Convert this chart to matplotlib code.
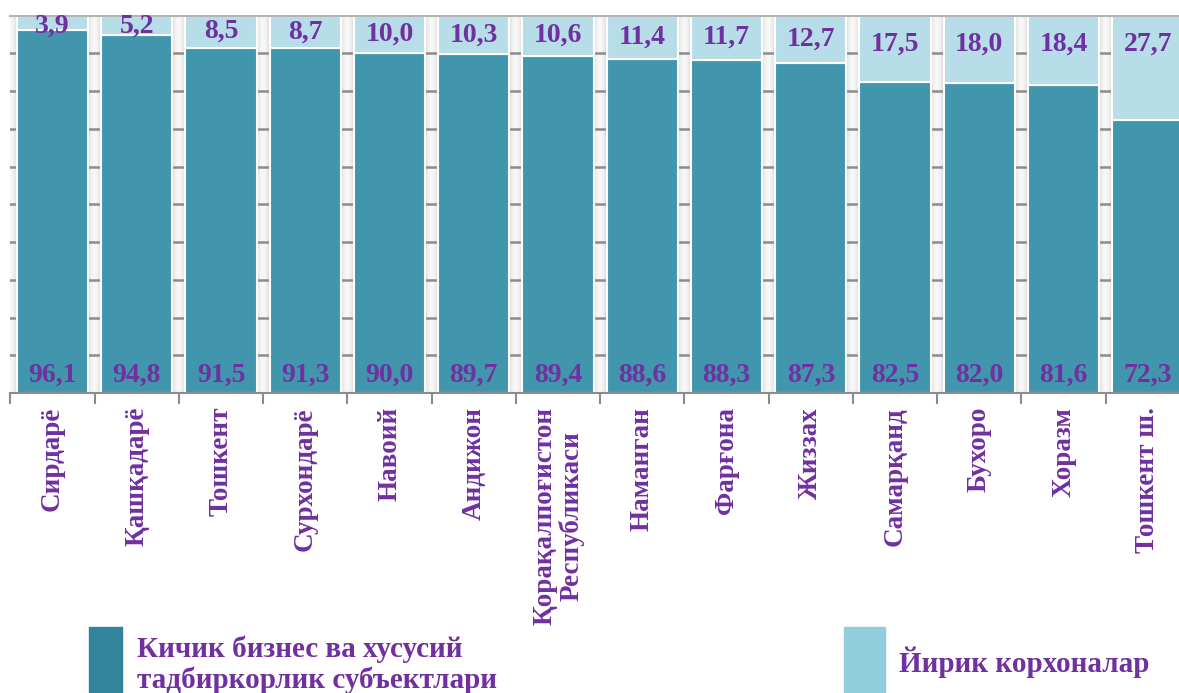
import numpy as np
import matplotlib
matplotlib.use('Agg')
import matplotlib.pyplot as plt
from matplotlib.patches import Rectangle

plt.rcParams.update({
    'font.family': ['Liberation Serif', 'DejaVu Serif'],
    'font.weight': 'bold',
})

regions = ['Сирдарё', 'Қашқадарё', 'Тошкент', 'Сурхондарё', 'Навоий', 'Андижон',
           'Қорақалпоғистон\nРеспубликаси', 'Наманган', 'Фарғона', 'Жиззах',
           'Самарқанд', 'Бухоро', 'Хоразм', 'Тошкент ш.']
small_biz = [96.1, 94.8, 91.5, 91.3, 90.0, 89.7, 89.4, 88.6, 88.3, 87.3, 82.5, 82.0, 81.6, 72.3]
large_ent = [3.9, 5.2, 8.5, 8.7, 10.0, 10.3, 10.6, 11.4, 11.7, 12.7, 17.5, 18.0, 18.4, 27.7]

DARK = '#4196AD'
LIGHT = '#B7DDE8'
PURPLE = '#7030A0'
GRAY = '#8c8c8c'


def fmt(v):
    return f'{v:.1f}'.replace('.', ',')


fig = plt.figure(figsize=(11.79, 6.93), dpi=100)
ax = fig.add_axes([0.00882, 0.4329, 1.0005, 0.5447])

x = np.arange(len(regions))
ax.set_xlim(-0.5, len(regions) - 0.5)
ax.set_ylim(0, 100)

# shaded gaps between the bars
gx = np.linspace(-0.5, len(regions) - 0.5, 3000)
frac = np.mod(gx + 0.5, 1.0)
d = np.minimum(frac, 1 - frac) / 0.08
shade = np.clip(0.97 - 0.13 * d ** 2, 0.8, 1.0)
ax.imshow(shade[np.newaxis, :], extent=(-0.5, len(regions) - 0.5, 0, 100),
          aspect='auto', cmap='gray', vmin=0, vmax=1, zorder=0)

for yv in range(10, 100, 10):
    ax.axhline(yv, color=GRAY, lw=1.8, zorder=1)

w = 0.845
ax.bar(x, small_biz, w, color=DARK, edgecolor='white', lw=1.5, zorder=2)
ax.bar(x, large_ent, w, bottom=small_biz, color=LIGHT, edgecolor='white', lw=1.5, zorder=2)

for i in range(len(regions)):
    ax.text(x[i], 4.8, fmt(small_biz[i]), ha='center', va='center',
            color=PURPLE, fontsize=20, fontweight='bold', zorder=3)
    ty = np.clip(100 - large_ent[i] / 2, 92.3, 97.1)
    ax.text(x[i], ty, fmt(large_ent[i]), ha='center', va='center',
            color=PURPLE, fontsize=20, fontweight='bold', zorder=3)

for s in ['left', 'right']:
    ax.spines[s].set_visible(False)
ax.spines['top'].set_color('#b4b4b4')
ax.spines['top'].set_linewidth(1.5)
ax.spines['bottom'].set_color(GRAY)
ax.spines['bottom'].set_linewidth(1.5)
ax.set_yticks([])

ax.set_xticks(x)
ax.set_xticklabels(regions, rotation=90, color=PURPLE, fontsize=19.5,
                   fontweight='bold', linespacing=1.05)
ax.tick_params(axis='x', which='major', direction='in', length=5, color=GRAY, pad=10)
ax.set_xticks(np.arange(-0.5, len(regions), 1.0), minor=True)
ax.tick_params(axis='x', which='minor', direction='out', length=8, color=GRAY, width=1.5)

# legend
fig.patches.append(Rectangle((89 / 1179, 0), 33 / 1179, 66 / 693,
                             transform=fig.transFigure, color='#31849B'))
fig.text(137 / 1179, 1 - 688 / 693, 'Кичик бизнес ва хусусий\nтадбиркорлик субъектлари',
         color=PURPLE, fontsize=21, fontweight='bold', va='baseline', linespacing=1.15)
fig.patches.append(Rectangle((844 / 1179, 0), 41 / 1179, 66 / 693,
                             transform=fig.transFigure, color='#92CDDC'))
fig.text(899 / 1179, 1 - 672 / 693, 'Йирик корхоналар',
         color=PURPLE, fontsize=21, fontweight='bold', va='baseline')

fig.savefig('out.png', dpi=100)
